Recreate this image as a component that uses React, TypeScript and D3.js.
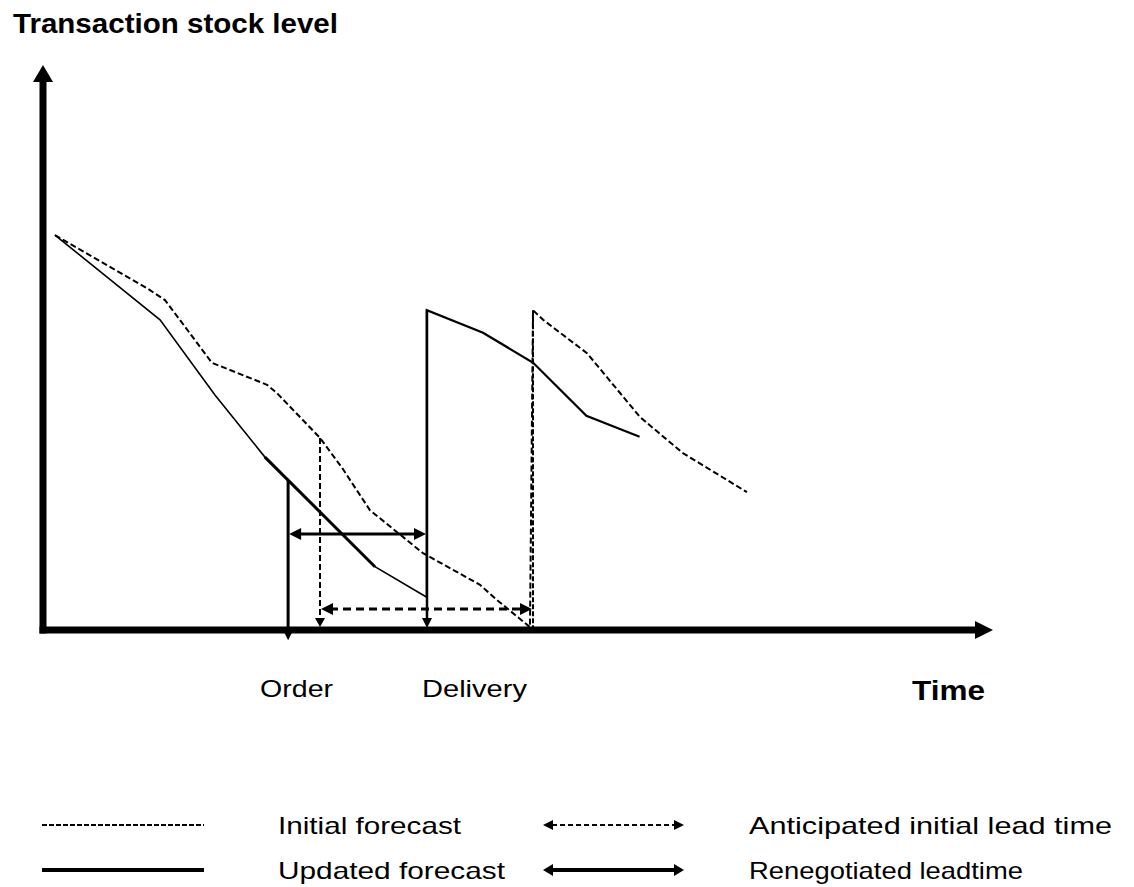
import React from "react";
import * as d3 from "d3";

// time units on x, stock level on y
const updatedT = [0.63, 6.16, 9.05, 11.68, 17.47, 20.2, 20.2, 23.16, 25.8, 28.6, 31.4];
const updatedV = [69.9, 54.9, 41.6, 30.6, 11.2, 5.8, 56.6, 52.6, 47.3, 37.9, 34.2];

const initialT = [0.63, 5.47, 6.42, 8.89, 11.79, 12.32, 14.58, 15.74, 17.21, 20.0, 23.0, 23.9, 25.63, 25.79, 26.32, 28.63, 31.42, 33.68, 37.05];
const initialV = [69.9, 60.5, 58.4, 47.3, 43.4, 41.9, 34.0, 28.7, 21.2, 13.6, 8.0, 5.3, 0.5, 56.6, 54.9, 49.0, 37.7, 31.3, 24.4];

const eventLabels = ["Order", "Delivery"];
const actualT = [12.9, 20.21]; // renegotiated order / delivery
const actualTop = [26.5, 56.6];
const plannedT = [14.58, 25.79]; // anticipated order / delivery
const plannedTop = [34.0, 56.6];
const renegotiatedLevel = 17.0;
const anticipatedLevel = 3.7;

const legendLabels = ["Initial forecast", "Updated forecast"];
const arrowLabels = ["Anticipated  initial lead time", "Renegotiated leadtime"];

const W = 1134;
const H = 887;
const FONT = "'Liberation Sans', Arial, sans-serif";

const x = d3.scaleLinear().domain([0, 50]).range([43, 993]);
const y = d3.scaleLinear().domain([0, 100]).range([630, 65]);

const lineGen = d3
  .line<[number, number]>()
  .x((d) => x(d[0]))
  .y((d) => y(d[1]));

function head(tx: number, ty: number, dir: string, len: number, hw: number) {
  if (dir === "right") return `M${tx},${ty}L${tx - len},${ty - hw}L${tx - len},${ty + hw}Z`;
  if (dir === "left") return `M${tx},${ty}L${tx + len},${ty - hw}L${tx + len},${ty + hw}Z`;
  if (dir === "up") return `M${tx},${ty}L${tx - hw},${ty + len}L${tx + hw},${ty + len}Z`;
  return `M${tx},${ty}L${tx - hw},${ty - len}L${tx + hw},${ty - len}Z`;
}

export default function App() {
  const updated = updatedT.map((t, i) => [t, updatedV[i]] as [number, number]);
  const initial = initialT.map((t, i) => [t, initialV[i]] as [number, number]);

  const x0 = x(0);
  const y0 = y(0);

  return (
    <svg width={W} height={H} style={{ position: "absolute", left: 0, top: 0, background: "#fff" }}>
      {/* axes */}
      <line x1={x0} x2={x0} y1={y0 + 3.5} y2={y(100) + 15} stroke="#000" strokeWidth={7} />
      <path d={head(x0, y(100), "up", 17, 10)} fill="#000" />
      <line x1={x0 - 3.5} x2={x(50) - 16} y1={y0} y2={y0} stroke="#000" strokeWidth={7} />
      <path d={head(x(50), y0, "right", 18, 9)} fill="#000" />

      {/* initial forecast */}
      <path d={lineGen(initial) || ""} fill="none" stroke="#000" strokeWidth={2} strokeDasharray="6,3" />
      {/* updated forecast */}
      <path d={lineGen(updated.slice(0, 6)) || ""} fill="none" stroke="#000" strokeWidth={1.6} />
      <path d={lineGen(updated.slice(5)) || ""} fill="none" stroke="#000" strokeWidth={2.2} />
      <path d={lineGen(updated.slice(3, 5)) || ""} fill="none" stroke="#000" strokeWidth={3} />

      {/* actual order / delivery verticals */}
      <line x1={x(actualT[0])} x2={x(actualT[0])} y1={y(actualTop[0])} y2={y(-1.8) - 8} stroke="#000" strokeWidth={3} />
      <path d={head(x(actualT[0]), y(-1.8), "down", 10, 5)} fill="#000" />
      <line x1={x(actualT[1])} x2={x(actualT[1])} y1={y(actualTop[1])} y2={y0 - 8} stroke="#000" strokeWidth={2.5} />
      <path d={head(x(actualT[1]), y0 - 2, "down", 10, 5)} fill="#000" />

      {/* planned verticals */}
      <line x1={x(plannedT[0])} x2={x(plannedT[0])} y1={y(plannedTop[0])} y2={y0 - 8} stroke="#000" strokeWidth={2} strokeDasharray="6,3" />
      <path d={head(x(plannedT[0]), y0 - 3, "down", 9, 5)} fill="#000" />
      <line x1={x(plannedT[1])} x2={x(plannedT[1])} y1={y(plannedTop[1])} y2={y0} stroke="#000" strokeWidth={2} strokeDasharray="5,2" />

      {/* renegotiated lead time */}
      <line x1={x(actualT[0]) + 10} x2={x(actualT[1]) - 10} y1={y(renegotiatedLevel)} y2={y(renegotiatedLevel)} stroke="#000" strokeWidth={3} />
      <path d={head(x(actualT[0]) + 1, y(renegotiatedLevel), "left", 12, 6)} fill="#000" />
      <path d={head(x(actualT[1]) - 1, y(renegotiatedLevel), "right", 12, 6)} fill="#000" />

      {/* anticipated lead time */}
      <line x1={x(plannedT[0]) + 10} x2={x(plannedT[1]) - 10} y1={y(anticipatedLevel)} y2={y(anticipatedLevel)} stroke="#000" strokeWidth={3} strokeDasharray="8,5" />
      <path d={head(x(plannedT[0]) + 1, y(anticipatedLevel), "left", 12, 6)} fill="#000" />
      <path d={head(x(plannedT[1]) - 1, y(anticipatedLevel), "right", 12, 6)} fill="#000" />

      {/* titles */}
      <text x={13} y={33} fontFamily={FONT} fontWeight="bold" fontSize={27} textLength={325} lengthAdjust="spacingAndGlyphs">
        Transaction stock level
      </text>
      <text x={912} y={700} fontFamily={FONT} fontWeight="bold" fontSize={27} textLength={73} lengthAdjust="spacingAndGlyphs">
        Time
      </text>
      <text x={x(actualT[0]) - 28} y={697} fontFamily={FONT} fontSize={24} textLength={73} lengthAdjust="spacingAndGlyphs">
        {eventLabels[0]}
      </text>
      <text x={x(actualT[1]) - 5} y={697} fontFamily={FONT} fontSize={24} textLength={105} lengthAdjust="spacingAndGlyphs">
        {eventLabels[1]}
      </text>

      {/* legend */}
      <line x1={42} x2={204} y1={825} y2={825} stroke="#000" strokeWidth={2} strokeDasharray="5,2" />
      <line x1={42} x2={204} y1={870} y2={870} stroke="#000" strokeWidth={4} />
      <text x={278} y={834} fontFamily={FONT} fontSize={24} textLength={183} lengthAdjust="spacingAndGlyphs">
        {legendLabels[0]}
      </text>
      <text x={278} y={879} fontFamily={FONT} fontSize={24} textLength={227} lengthAdjust="spacingAndGlyphs">
        {legendLabels[1]}
      </text>

      <line x1={552} x2={675} y1={825} y2={825} stroke="#000" strokeWidth={2} strokeDasharray="5,3" />
      <path d={head(543, 825, "left", 10, 5)} fill="#000" />
      <path d={head(684, 825, "right", 10, 5)} fill="#000" />
      <line x1={552} x2={675} y1={870} y2={870} stroke="#000" strokeWidth={4} />
      <path d={head(543, 870, "left", 10, 6)} fill="#000" />
      <path d={head(684, 870, "right", 10, 6)} fill="#000" />
      <text x={749} y={834} fontFamily={FONT} fontSize={24} textLength={363} lengthAdjust="spacingAndGlyphs">
        {arrowLabels[0]}
      </text>
      <text x={749} y={879} fontFamily={FONT} fontSize={24} textLength={274} lengthAdjust="spacingAndGlyphs">
        {arrowLabels[1]}
      </text>
    </svg>
  );
}
